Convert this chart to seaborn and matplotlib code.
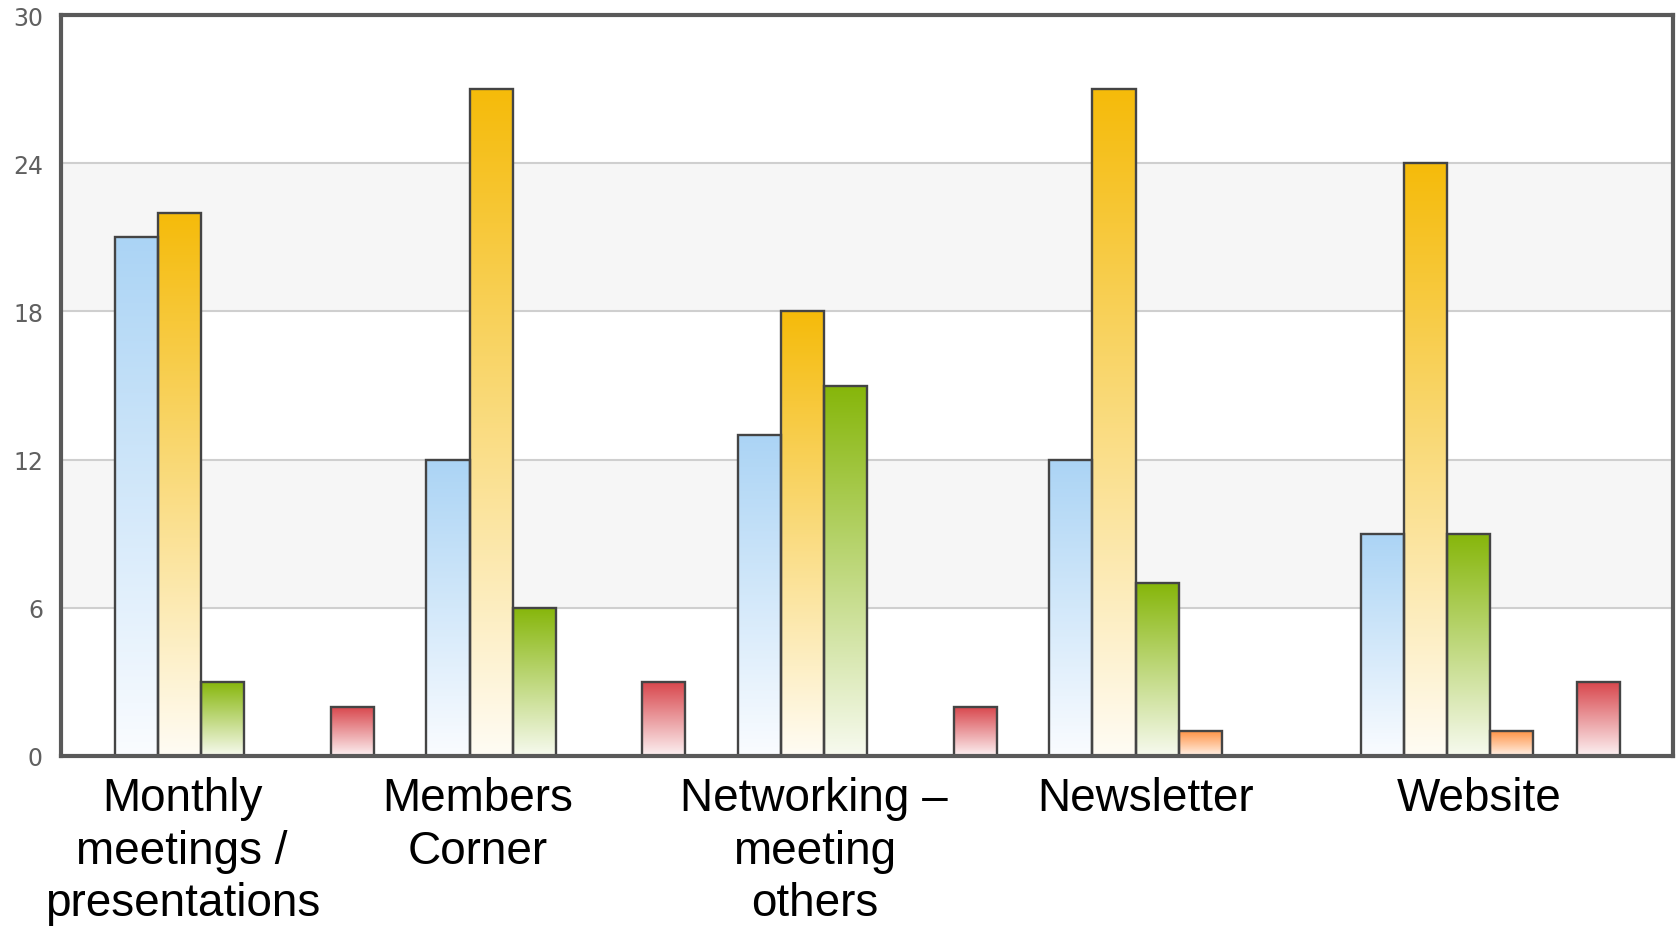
import numpy as np
import pandas as pd
import matplotlib
matplotlib.use("Agg")
import matplotlib.pyplot as plt
import matplotlib.transforms as mtransforms
from matplotlib.colors import LinearSegmentedColormap
from matplotlib import font_manager
import seaborn as sns

# ---- data -------------------------------------------------------------
categories = [
    "Monthly\nmeetings /\npresentations",
    "Members\nCorner",
    "Networking –\nmeeting\nothers",
    "Newsletter",
    "Website",
]
series_names = ["Series 1", "Series 2", "Series 3", "Series 4", "Series 5", "Series 6"]
series_1 = [21, 12, 13, 12, 9]
series_2 = [22, 27, 18, 27, 24]
series_3 = [3, 6, 15, 7, 9]
series_4 = [0, 0, 0, 1, 1]
series_5 = [0, 0, 0, 0, 0]
series_6 = [2, 3, 2, 0, 3]
y_ticks = [0, 6, 12, 18, 24, 30]

# ---- styling ----------------------------------------------------------
top_colors = ["#abd4f5", "#f5bb0a", "#86b60a", "#ff9447", "#bbbbbb", "#d8454b"]
bottom_colors = ["#fafcff", "#fffcf4", "#f7faef", "#fff2e8", "#ffffff", "#fcf1f2"]
label_shift = [-0.20, -0.25, -0.17, -0.106, -0.034]

available = {f.name for f in font_manager.fontManager.ttflist}
narrow = [f for f in ["Liberation Sans Narrow", "Arial Narrow"] if f in available]
if narrow:
    label_family, label_size, label_ls = [narrow[0], "DejaVu Sans"], 37, 1.1
else:
    label_family, label_size, label_ls = ["Liberation Sans", "DejaVu Sans"], 33, 1.25

sns.set_theme(style="white")
plt.rcParams["font.family"] = ["DejaVu Sans"]

values = [series_1, series_2, series_3, series_4, series_5, series_6]
df = pd.DataFrame({
    "category": categories * len(series_names),
    "series": np.repeat(series_names, len(categories)),
    "value": np.concatenate(values),
})

W, H = 1681, 929
fig = plt.figure(figsize=(W / 100, H / 100), dpi=100)
ax = fig.add_axes([61 / W, 1 - 757 / H, (1673 - 61) / W, (757 - 16) / H])

# alternating background bands and grid
ax.axhspan(6, 12, color="#f6f6f6", zorder=0, lw=0)
ax.axhspan(18, 24, color="#f6f6f6", zorder=0, lw=0)
for yv in y_ticks[1:-1]:
    ax.axhline(yv, color="#cfcfcf", lw=1.5, zorder=0.5)

sns.barplot(
    data=df, x="category", y="value", hue="series",
    order=categories, hue_order=series_names,
    palette=top_colors, saturation=1, width=0.832, gap=0,
    errorbar=None, legend=False, edgecolor="#444444", linewidth=1.7,
    ax=ax, zorder=2,
)

# vertical gradient fill for every bar
grad = np.linspace(0, 1, 256).reshape(-1, 1)
for k, container in enumerate(ax.containers):
    cmap = LinearSegmentedColormap.from_list(
        f"g{k}", [bottom_colors[k], top_colors[k]])
    for patch in container.patches:
        h = patch.get_height()
        if h <= 0:
            patch.set_visible(False)
            continue
        x0 = patch.get_x()
        w = patch.get_width()
        im = ax.imshow(grad, extent=[x0, x0 + w, 0, h], origin="lower",
                       cmap=cmap, aspect="auto", zorder=1.9,
                       interpolation="bilinear")
        im.set_clip_path(patch)
        patch.set_facecolor("none")

ax.set_xlim(-0.589, 4.587)
ax.set_ylim(0, 30)
ax.set_yticks(y_ticks)
ax.set_yticklabels([str(v) for v in y_ticks])
ax.tick_params(axis="y", length=0, pad=13, labelsize=17, labelcolor="#606060")
ax.set_xticks([])
ax.set_xlabel("")
ax.set_ylabel("")

for side in ["left", "right", "top", "bottom"]:
    ax.spines[side].set_visible(True)
    ax.spines[side].set_color("#595959")
    ax.spines[side].set_linewidth(3)
    ax.spines[side].set_zorder(5)

trans = mtransforms.blended_transform_factory(ax.transData, ax.transAxes)
for i, name in enumerate(categories):
    ax.text(i + label_shift[i], -0.027, name, transform=trans,
            ha="center", va="top", fontsize=label_size, color="black",
            family=label_family, linespacing=label_ls, clip_on=False)

fig.savefig("out.png", dpi=100, facecolor="white")
